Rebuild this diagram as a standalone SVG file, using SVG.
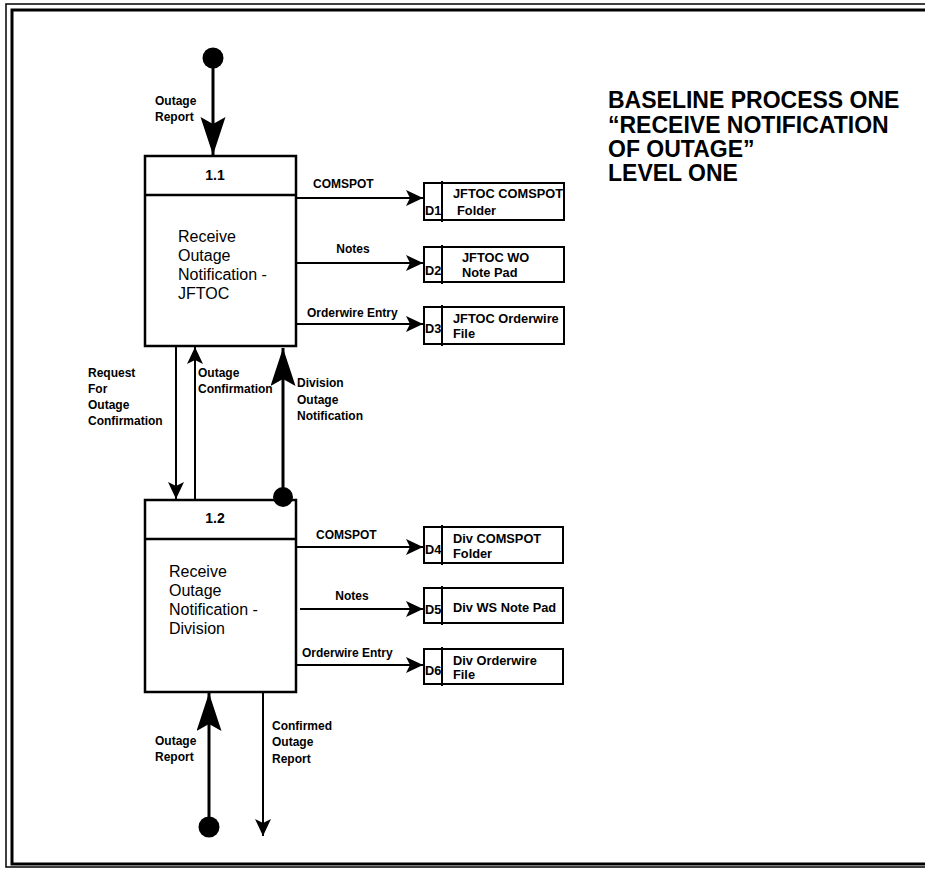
<svg xmlns="http://www.w3.org/2000/svg" width="925" height="869" viewBox="0 0 925 869">
<style>
  .lbl{font-family:"Liberation Sans",Arial,sans-serif;font-size:12px;font-weight:bold;fill:#000}
  .proc{font-family:"Liberation Sans",Arial,sans-serif;font-size:16px;fill:#000}
  .num{font-family:"Liberation Sans",Arial,sans-serif;font-size:14px;font-weight:bold;fill:#000}
  .store{font-family:"Liberation Sans",Arial,sans-serif;font-size:12.8px;font-weight:bold;fill:#000}
  .title{font-family:"Liberation Sans",Arial,sans-serif;font-size:23px;font-weight:bold;fill:#000}
  .box{fill:#fff;stroke:#000;stroke-width:2.5}
  .sbox{fill:#fff;stroke:#000;stroke-width:2}
  .thin{stroke:#000;stroke-width:2;fill:none}
  .thick{stroke:#000;stroke-width:3;fill:none}
</style>
<defs>
  <marker id="ah" markerUnits="userSpaceOnUse" markerWidth="20" markerHeight="18" refX="17" refY="8" orient="auto">
    <path d="M0,0 L17,8 L0,16 L4,8 Z" fill="#000"/>
  </marker>
  <marker id="ahb" markerUnits="userSpaceOnUse" markerWidth="40" markerHeight="26" refX="38" refY="12.5" orient="auto">
    <path d="M0,0 L38,12.5 L0,25 L7,12.5 Z" fill="#000"/>
  </marker>
</defs>
<rect width="925" height="869" fill="#fff"/>
<g id="frame">
  <path d="M930,4 L6,4 L6,867 L930,867" fill="none" stroke="#000" stroke-width="1.5"/>
  <path d="M930,10 L12,10 L12,864 L930,864" fill="none" stroke="#000" stroke-width="3"/>
</g>
<g id="title">
  <text class="title" x="608" y="108">BASELINE PROCESS ONE</text>
  <text class="title" x="608" y="133">“RECEIVE NOTIFICATION</text>
  <text class="title" x="608" y="157">OF OUTAGE”</text>
  <text class="title" x="608" y="181">LEVEL ONE</text>
</g>
<g id="p1-1">
  <rect class="box" x="145" y="156" width="151" height="190"/>
  <line class="box" x1="145" y1="195" x2="296" y2="195"/>
  <text class="num" x="215" y="180" text-anchor="middle">1.1</text>
  <text class="proc" x="178" y="242">Receive</text>
  <text class="proc" x="178" y="261">Outage</text>
  <text class="proc" x="178" y="280">Notification -</text>
  <text class="proc" x="178" y="299">JFTOC</text>
</g>
<g id="p1-2">
  <rect class="box" x="145" y="500" width="151" height="192"/>
  <line class="box" x1="145" y1="539" x2="296" y2="539"/>
  <text class="num" x="215" y="523" text-anchor="middle">1.2</text>
  <text class="proc" x="169" y="577">Receive</text>
  <text class="proc" x="169" y="596">Outage</text>
  <text class="proc" x="169" y="615">Notification -</text>
  <text class="proc" x="169" y="634">Division</text>
</g>
<g id="D1">
  <rect class="sbox" x="424" y="183" width="140" height="37"/>
  <line class="sbox" x1="442" y1="181" x2="442" y2="222"/>
  <text class="store" x="425" y="215">D1</text>
  <text class="store" x="453" y="198">JFTOC COMSPOT</text>
  <text class="store" x="457" y="215">Folder</text>
</g>
<g id="D2">
  <rect class="sbox" x="424" y="247" width="140" height="35"/>
  <line class="sbox" x1="442" y1="245" x2="442" y2="284"/>
  <text class="store" x="425" y="275">D2</text>
  <text class="store" x="462" y="262">JFTOC WO</text>
  <text class="store" x="462" y="277">Note Pad</text>
</g>
<g id="D3">
  <rect class="sbox" x="424" y="307" width="140" height="37"/>
  <line class="sbox" x1="442" y1="305" x2="442" y2="346"/>
  <text class="store" x="425" y="333">D3</text>
  <text class="store" x="453" y="323">JFTOC Orderwire</text>
  <text class="store" x="453" y="338">File</text>
</g>
<g id="D4">
  <rect class="sbox" x="424" y="527" width="139" height="36"/>
  <line class="sbox" x1="442" y1="525" x2="442" y2="565"/>
  <text class="store" x="425" y="554">D4</text>
  <text class="store" x="453" y="543">Div COMSPOT</text>
  <text class="store" x="453" y="558">Folder</text>
</g>
<g id="D5">
  <rect class="sbox" x="424" y="588" width="139" height="35"/>
  <line class="sbox" x1="442" y1="586" x2="442" y2="625"/>
  <text class="store" x="425" y="614">D5</text>
  <text class="store" x="453" y="612">Div WS Note Pad</text>
</g>
<g id="D6">
  <rect class="sbox" x="424" y="649" width="139" height="35"/>
  <line class="sbox" x1="442" y1="647" x2="442" y2="686"/>
  <text class="store" x="425" y="675">D6</text>
  <text class="store" x="453" y="665">Div Orderwire</text>
  <text class="store" x="453" y="679">File</text>
</g>
<g id="connectors">
  <circle cx="213" cy="58" r="10.5" fill="#000"/>
  <line class="thick" x1="213" y1="60" x2="213" y2="155" marker-end="url(#ahb)"/>
  <line class="thin" x1="296" y1="198" x2="423" y2="198" marker-end="url(#ah)"/>
  <line class="thin" x1="296" y1="263" x2="423" y2="263" marker-end="url(#ah)"/>
  <line class="thin" x1="296" y1="324" x2="423" y2="324" marker-end="url(#ah)"/>
  <line class="thin" x1="176" y1="346" x2="176" y2="499" marker-end="url(#ah)"/>
  <line class="thin" x1="195" y1="500" x2="195" y2="347" marker-end="url(#ah)"/>
  <circle cx="283" cy="497" r="10" fill="#000"/>
  <line class="thick" x1="283" y1="495" x2="283" y2="348" marker-end="url(#ahb)"/>
  <line class="thin" x1="296" y1="547" x2="423" y2="547" marker-end="url(#ah)"/>
  <line class="thin" x1="300" y1="609" x2="423" y2="609" marker-end="url(#ah)"/>
  <line class="thin" x1="296" y1="665" x2="423" y2="665" marker-end="url(#ah)"/>
  <circle cx="209" cy="827" r="10.5" fill="#000"/>
  <line class="thick" x1="209" y1="825" x2="209" y2="693" marker-end="url(#ahb)"/>
  <line class="thin" x1="263" y1="692" x2="263" y2="836" marker-end="url(#ah)"/>
  <text class="lbl" x="155" y="105">Outage</text>
  <text class="lbl" x="155" y="121">Report</text>
  <text class="lbl" x="313" y="188">COMSPOT</text>
  <text class="lbl" x="353" y="253" text-anchor="middle">Notes</text>
  <text class="lbl" x="307" y="317">Orderwire Entry</text>
  <text class="lbl" x="88" y="377">Request</text>
  <text class="lbl" x="88" y="393">For</text>
  <text class="lbl" x="88" y="409">Outage</text>
  <text class="lbl" x="88" y="425">Confirmation</text>
  <text class="lbl" x="198" y="377">Outage</text>
  <text class="lbl" x="198" y="393">Confirmation</text>
  <text class="lbl" x="297" y="387">Division</text>
  <text class="lbl" x="297" y="404">Outage</text>
  <text class="lbl" x="297" y="420">Notification</text>
  <text class="lbl" x="316" y="539">COMSPOT</text>
  <text class="lbl" x="352" y="600" text-anchor="middle">Notes</text>
  <text class="lbl" x="302" y="657">Orderwire Entry</text>
  <text class="lbl" x="155" y="745">Outage</text>
  <text class="lbl" x="155" y="761">Report</text>
  <text class="lbl" x="272" y="730">Confirmed</text>
  <text class="lbl" x="272" y="746">Outage</text>
  <text class="lbl" x="272" y="763">Report</text>
</g>
</svg>
